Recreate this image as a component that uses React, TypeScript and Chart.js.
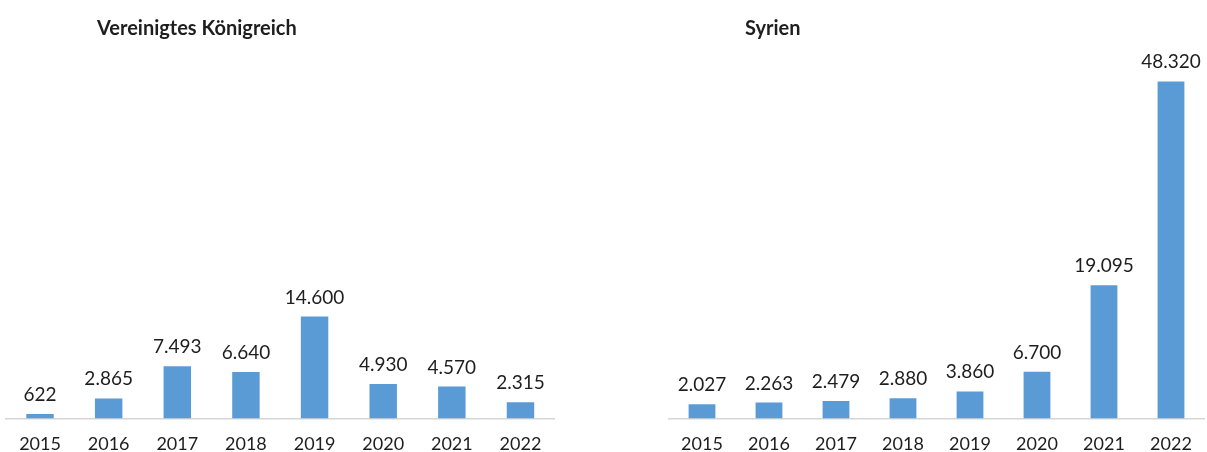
import React, { useEffect, useRef } from "react";
import { Chart, registerables } from "chart.js";

Chart.register(...registerables);

const years: string[] = ["2015", "2016", "2017", "2018", "2019", "2020", "2021", "2022"];
const ukValues: number[] = [622, 2865, 7493, 6640, 14600, 4930, 4570, 2315];
const syriaValues: number[] = [2027, 2263, 2479, 2880, 3860, 6700, 19095, 48320];
const ukTitle = "Vereinigtes Königreich";
const syriaTitle = "Syrien";
const yMax = 50000;

const FONT = "Lato, 'Noto Sans', sans-serif";
const BAR_COLOR = "#5b9bd5";
const TEXT_COLOR = "#1e1e1e";

const fmt = (v: number) => String(v).replace(/\B(?=(\d{3})+(?!\d))/g, ".");

const valueLabels = {
  id: "valueLabels",
  afterDatasetsDraw(chart: any) {
    const ctx = chart.ctx;
    const meta = chart.getDatasetMeta(0);
    const data = chart.data.datasets[0].data as number[];
    ctx.save();
    ctx.font = `19px ${FONT}`;
    ctx.fillStyle = TEXT_COLOR;
    ctx.textAlign = "center";
    ctx.textBaseline = "alphabetic";
    meta.data.forEach((bar: any, i: number) => {
      ctx.fillText(fmt(data[i]), bar.x, bar.y - 13);
    });
    ctx.restore();
  },
};

type PanelProps = {
  values: number[];
  left: number;
  width: number;
  padLeft: number;
  padRight: number;
};

const CANVAS_H = 473;

function BarPanel({ values, left, width, padLeft, padRight }: PanelProps) {
  const ref = useRef<HTMLCanvasElement | null>(null);
  useEffect(() => {
    if (!ref.current) return;
    const chart = new Chart(ref.current, {
      type: "bar",
      data: {
        labels: years,
        datasets: [
          {
            data: values,
            backgroundColor: BAR_COLOR,
            borderWidth: 0,
            barPercentage: 0.4,
            categoryPercentage: 1,
          },
        ],
      },
      options: {
        responsive: false,
        maintainAspectRatio: false,
        animation: false,
        layout: { padding: { left: padLeft, right: padRight, top: 69.7, bottom: 3 } },
        plugins: {
          legend: { display: false },
          title: { display: false },
          tooltip: { enabled: false },
        },
        scales: {
          x: {
            grid: { display: false, drawTicks: false },
            border: { display: true, color: "#d6d6d6", width: 1.5 },
            ticks: {
              font: { family: FONT, size: 18 },
              color: TEXT_COLOR,
              padding: 15,
              maxRotation: 0,
            },
          },
          y: {
            display: false,
            min: 0,
            max: yMax,
          },
        },
      },
      plugins: [valueLabels],
    });
    return () => chart.destroy();
  }, [values, padLeft, padRight]);
  return (
    <canvas
      ref={ref}
      width={width}
      height={CANVAS_H}
      style={{ position: "absolute", left, top: 0, width, height: CANVAS_H }}
    />
  );
}

const titleStyle: React.CSSProperties = {
  position: "absolute",
  top: 14,
  fontFamily: FONT,
  fontWeight: 700,
  fontSize: 20,
  color: TEXT_COLOR,
  whiteSpace: "nowrap",
  lineHeight: "26px",
};

export default function App() {
  return (
    <div
      style={{
        position: "fixed",
        left: 0,
        top: 0,
        width: 1207,
        height: 452,
        background: "#ffffff",
        overflow: "hidden",
      }}
    >
      <BarPanel values={ukValues} left={0} width={560} padLeft={5.7} padRight={5.2} />
      <BarPanel values={syriaValues} left={660} width={547} padLeft={8.5} padRight={2} />
      <div style={{ ...titleStyle, left: 97 }}>{ukTitle}</div>
      <div style={{ ...titleStyle, left: 745 }}>{syriaTitle}</div>
    </div>
  );
}
